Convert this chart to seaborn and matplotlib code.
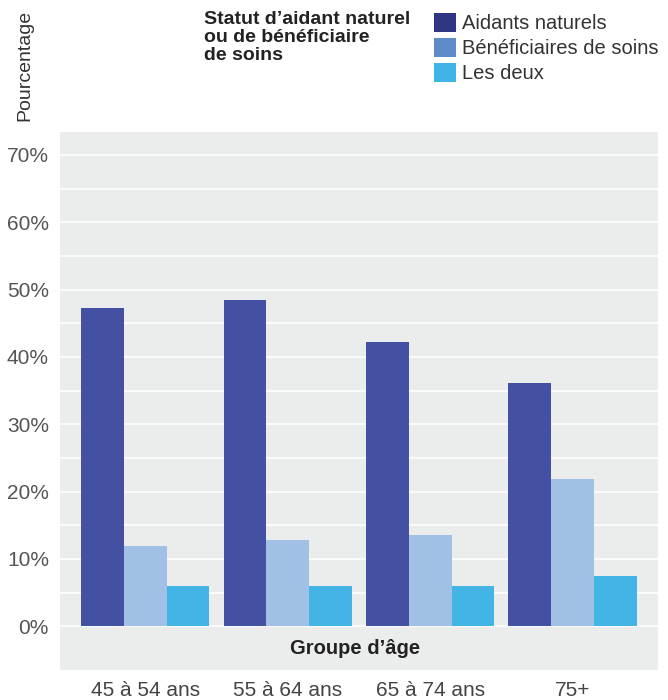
import numpy as np
import pandas as pd
import matplotlib.pyplot as plt
from matplotlib.patches import Patch
from matplotlib.ticker import FixedLocator, FuncFormatter
import seaborn as sns

# Data
age_groups = ['45 à 54 ans', '55 à 64 ans', '65 à 74 ans', '75+']
series_names = ['Aidants naturels', 'Bénéficiaires de soins', 'Les deux']
aidants = [47.3, 48.4, 42.2, 36.1]
beneficiaires = [11.9, 12.8, 13.5, 21.8]
les_deux = [5.9, 5.9, 5.9, 7.4]
y_ticks = [0, 10, 20, 30, 40, 50, 60, 70]
y_half_ticks = [5, 15, 25, 35, 45, 55, 65]

BAR_COLORS = ['#4451A3', '#A1C0E6', '#42B4E6']
SWATCH_COLORS = ['#2E3583', '#5E8CC9', '#40B4E6']
BG = '#EBEDED'
TXT = '#555555'


def build_frame():
    rows = []
    for name, vals in zip(series_names, [aidants, beneficiaires, les_deux]):
        for grp, v in zip(age_groups, vals):
            rows.append({'groupe': grp, 'statut': name, 'pct': v})
    return pd.DataFrame(rows)


def main():
    sns.set_style('white')
    plt.rcParams['font.family'] = ['Liberation Sans', 'DejaVu Sans']

    df = build_frame()
    fig = plt.figure(figsize=(6.68, 7.0), dpi=100)
    ax = fig.add_axes([0.0898, 0.0429, 0.8952, 0.7685])
    ax.set_facecolor(BG)

    sns.barplot(data=df, x='groupe', y='pct', hue='statut', order=age_groups,
                hue_order=series_names, palette=BAR_COLORS, width=0.9,
                saturation=1, gap=0, ax=ax, legend=False, zorder=3)
    for p in ax.patches:
        p.set_edgecolor('none')

    ax.set_ylim(-6.5, 73.4)
    ax.set_xlim(-0.6, 3.6)
    ax.yaxis.set_major_locator(FixedLocator(y_ticks))
    ax.yaxis.set_minor_locator(FixedLocator(y_half_ticks))
    ax.yaxis.set_major_formatter(FuncFormatter(lambda v, _: f'{v:.0f}%'))
    ax.grid(axis='y', which='both', color='white', linewidth=1.2, zorder=0)
    ax.set_axisbelow(True)
    ax.tick_params(axis='y', which='major', length=3, width=1, color=TXT,
                   labelsize=15, labelcolor=TXT, pad=5)
    ax.tick_params(axis='y', which='minor', length=0)
    ax.tick_params(axis='x', length=5, width=1, color='#888888', direction='out',
                   labelsize=15, labelcolor='#444444', pad=3)
    for s in ax.spines.values():
        s.set_visible(False)
    ax.set_xlabel('')
    ax.set_ylabel('')

    ax.text(0.493, -3.3, 'Groupe d\u2019âge', transform=ax.get_yaxis_transform(),
            ha='center', va='center', fontsize=14.5, fontweight='bold', color='#222222')

    fig.text(0.037, 0.986, 'Pourcentage', rotation=90, ha='center', va='top',
             fontsize=14, color='#333333')

    fig.text(0.305, 0.984, 'Statut d\u2019aidant naturel\nou de bénéficiaire\nde soins',
             ha='left', va='top', fontsize=14, fontweight='bold', color='#222222',
             linespacing=1.05)

    handles = [Patch(facecolor=c, edgecolor='none') for c in SWATCH_COLORS]
    fig.legend(handles, series_names, loc='upper left', bbox_to_anchor=(0.649, 0.982),
               frameon=False, fontsize=14.5, handlelength=1.12, handleheight=1.12,
               handletextpad=0.3, labelspacing=0.22, borderpad=0, borderaxespad=0,
               labelcolor='#333333')

    fig.savefig('out.png', dpi=100)


if __name__ == '__main__':
    main()
